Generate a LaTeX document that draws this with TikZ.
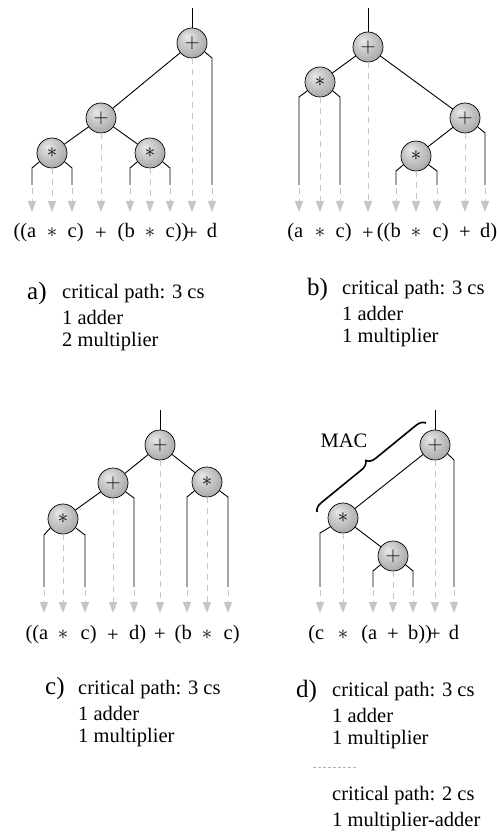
\documentclass[tikz,border=0pt]{standalone}
\usepackage{fontspec}
\setmainfont{Liberation Serif}
\usetikzlibrary{arrows.meta,shadings,decorations.pathreplacing}
\pgfdeclareradialshading{opball}{\pgfpoint{-9bp}{11bp}}{%
  color(0bp)=(gray!18); color(12bp)=(gray!38); color(30bp)=(gray!68);
  color(42bp)=(gray!85); color(50bp)=(gray!90)}
\begin{document}
\begin{tikzpicture}[x=1pt,y=-1pt,
  opnode/.style={circle, draw=black, line width=0.7pt, minimum size=30pt, inner sep=0pt,
     shading=opball, font=\fontsize{21}{21}\selectfont},
  leg/.style={line width=0.9pt, black},
  garr/.style={draw=gray!45, line width=1pt, dash pattern=on 6pt off 5pt,
     -{Triangle[length=11pt,width=8pt,fill=gray!45]}},
  fa/.style={font=\fontsize{20.5}{24}\selectfont, inner sep=0pt, anchor=base},
  txt/.style={font=\fontsize{20.5}{24}\selectfont, inner sep=0pt, anchor=base west},
  lab/.style={font=\fontsize{25}{28}\selectfont, inner sep=0pt, anchor=base west}
]
\newcommand\mylegs[5]{% #1 start, #2 x, #3 corner y, #4 end y, #5 tip y
  \draw[leg] (#1) -- (#2,#3) -- (#2,#4);
  \draw[garr] (#2,#4+3) -- (#2,#5);}
\path[use as bounding box] (0,0) rectangle (497,834);

% ================= panel a =================
\node[opnode] (aR) at (192,43) {$+$};
\node[opnode] (aM) at (101,118) {$+$};
\node[opnode] (aA) at (52,153) {$\ast$};
\node[opnode] (aB) at (150,153) {$\ast$};
\coordinate (aT) at (192,8);
\draw[leg] (aT) -- (aR);
\draw[leg] (aR) -- (aM);
\draw[leg] (aM) -- (aA);
\draw[leg] (aM) -- (aB);
\draw[garr] (aR) -- (192,212);
\draw[garr] (aM) -- (101,212);
\draw[garr] (aA) -- (52,212);
\draw[garr] (aB) -- (150,212);
\mylegs{aR.-35}{212}{58}{185}{212}
\mylegs{aA.215}{32}{168}{185}{212}
\mylegs{aA.-35}{72}{168}{185}{212}
\mylegs{aB.215}{130}{168}{185}{212}
\mylegs{aB.-35}{170}{168}{185}{212}

\node[fa, anchor=base east] (fa1) at (36.5,237) {((a};
\node[fa] (fa2) at (52,237) {$\ast$};
\node[fa, anchor=base west] (fa3) at (67.5,237) {c)};
\node[fa] (fa4) at (101,240) {+};
\node[fa, anchor=base east] (fa5) at (135,237) {(b};
\node[fa] (fa6) at (150,237) {$\ast$};
\node[fa, anchor=base west] (fa7) at (165.5,237) {c))};
\node[fa] (fa8) at (192,239) {+};
\node[fa] (fa9) at (212,237) {d};

\node[lab] (la) at (27,299) {a)};
\node[txt] (ta1) at (62,298) {critical path: 3 cs};
\node[txt] (ta2) at (62,324) {1 adder};
\node[txt] (ta3) at (62,346) {2 multiplier};

% ================= panel b =================
\node[opnode] (bR) at (368,47) {$+$};
\node[opnode] (bA) at (320,82) {$\ast$};
\node[opnode] (bP) at (465,118) {$+$};
\node[opnode] (bB) at (416,156) {$\ast$};
\coordinate (bT) at (368,8);
\draw[leg] (bT) -- (bR);
\draw[leg] (bR) -- (bA);
\draw[leg] (bR) -- (bP);
\draw[leg] (bP) -- (bB);
\draw[garr] (bR) -- (368,212);
\draw[garr] (bA) -- (320,212);
\draw[garr] (bP) -- (465,212);
\draw[garr] (bB) -- (416,212);
\mylegs{bA.215}{299}{97}{185}{212}
\mylegs{bA.-35}{340}{97}{185}{212}
\mylegs{bP.-35}{485}{133}{185}{212}
\mylegs{bB.215}{396}{171}{185}{212}
\mylegs{bB.-35}{437}{171}{185}{212}

\node[fa, anchor=base east] (fb1) at (303.5,237) {(a};
\node[fa] (fb2) at (320,237) {$\ast$};
\node[fa, anchor=base west] (fb3) at (335.5,237) {c)};
\node[fa] (fb4) at (368,240) {+};
\node[fa, anchor=base east] (fb5) at (401,237) {((b};
\node[fa] (fb6) at (416,237) {$\ast$};
\node[fa, anchor=base west] (fb7) at (432.5,237) {c)};
\node[fa] (fb8) at (465,238) {+};
\node[fa, anchor=base west] (fb9) at (480,237) {d)};

\node[lab] (lb) at (307,295) {b)};
\node[txt] (tb1) at (342,294) {critical path: 3 cs};
\node[txt] (tb2) at (342,320) {1 adder};
\node[txt] (tb3) at (342,342) {1 multiplier};

% ================= panel c =================
\node[opnode] (cR) at (160,445) {$+$};
\node[opnode] (cP) at (113,483) {$+$};
\node[opnode] (cB) at (207,482) {$\ast$};
\node[opnode] (cA) at (63,519) {$\ast$};
\coordinate (cT) at (160,410);
\draw[leg] (cT) -- (cR);
\draw[leg] (cR) -- (cP);
\draw[leg] (cR) -- (cB);
\draw[leg] (cP) -- (cA);
\draw[garr] (cR) -- (160,613);
\draw[garr] (cP) -- (113,613);
\draw[garr] (cB) -- (207,613);
\draw[garr] (cA) -- (63,613);
\mylegs{cP.-35}{134}{498}{587}{613}
\mylegs{cB.215}{187}{497}{587}{613}
\mylegs{cB.-35}{228}{497}{587}{613}
\mylegs{cA.215}{44}{535}{587}{613}
\mylegs{cA.-35}{85}{535}{587}{613}

\node[fa, anchor=base east] (fc1) at (48.5,639) {((a};
\node[fa] (fc2) at (63,639) {$\ast$};
\node[fa, anchor=base west] (fc3) at (80.5,639) {c)};
\node[fa] (fc4) at (113,641) {+};
\node[fa, anchor=base west] (fc5) at (128.9,639) {d)};
\node[fa] (fc6) at (160,640) {+};
\node[fa, anchor=base east] (fc7) at (192,639) {(b};
\node[fa] (fc8) at (207,639) {$\ast$};
\node[fa, anchor=base west] (fc9) at (223.5,639) {c)};

\node[lab] (lc) at (45,694) {c)};
\node[txt] (tc1) at (78,694) {critical path: 3 cs};
\node[txt] (tc2) at (78,720) {1 adder};
\node[txt] (tc3) at (78,742) {1 multiplier};

% ================= panel d =================
\node[opnode] (dR) at (435,445) {$+$};
\node[opnode] (dM) at (343,518) {$\ast$};
\node[opnode] (dP) at (393,556) {$+$};
\coordinate (dT) at (435,410);
\draw[leg] (dT) -- (dR);
\draw[leg] (dR) -- (dM);
\draw[leg] (dM) -- (dP);
\draw[garr] (dR) -- (435,613);
\draw[garr] (dM) -- (343,613);
\draw[garr] (dP) -- (393,613);
\mylegs{dR.-35}{454}{460}{587}{613}
\mylegs{dM.215}{320}{533}{587}{613}
\mylegs{dP.215}{373}{571}{587}{613}
\mylegs{dP.-35}{413}{571}{587}{613}

\coordinate (br1) at (317,512);
\coordinate (br2) at (426,423);
\draw[line width=1.6pt, decorate, decoration={brace, amplitude=9pt}] (br1) -- (br2);
\node[fa] (mac) at (344,447) {MAC};

\node[fa, anchor=base east] (fd1) at (324.5,639) {(c};
\node[fa] (fd2) at (343,639) {$\ast$};
\node[fa, anchor=base east] (fd3) at (377.5,639) {(a};
\node[fa] (fd4) at (393,640) {+};
\node[fa, anchor=base west] (fd5) at (407.9,639) {b))};
\node[fa] (fd6) at (435,640) {+};
\node[fa] (fd7) at (454,639) {d};

\node[lab] (ld) at (296,697) {d)};
\node[txt] (td1) at (332,696) {critical path: 3 cs};
\node[txt] (td2) at (332,722) {1 adder};
\node[txt] (td3) at (332,744) {1 multiplier};
\coordinate (dl1) at (313,767);
\coordinate (dl2) at (357,767);
\draw[gray!60, line width=0.6pt, dash pattern=on 3pt off 2pt] (dl1) -- (dl2);
\node[txt] (td4) at (332,800) {critical path: 2 cs};
\node[txt] (td5) at (332,826) {1 multiplier-adder};
\end{tikzpicture}
\end{document}
